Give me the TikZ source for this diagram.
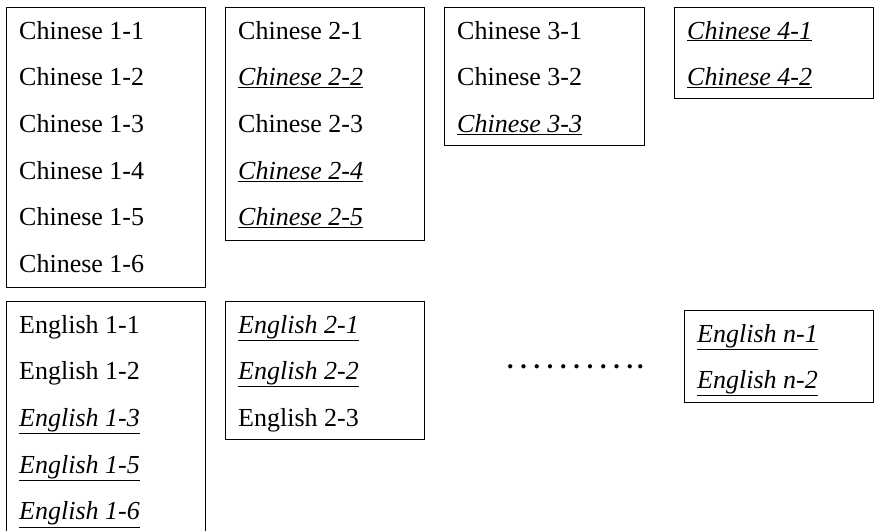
\documentclass[tikz,border=0pt]{standalone}
\usepackage{fontspec}
\setmainfont{Liberation Serif}
\usetikzlibrary{calc}

% italic, underlined entry
\newcommand{\hl}[1]{\underline{\textit{#1}}}

\tikzset{
  col/.style={draw, line width=0.8pt, inner sep=0pt, anchor=north west, minimum width=199pt},
  entry/.style={anchor=base west, inner sep=0pt, font=\fontsize{26}{30}\selectfont}
}

\begin{document}
\begin{tikzpicture}[x=1pt,y=-1pt]
    \useasboundingbox (0,0) rectangle (874,530);
    \clip (0,0) rectangle (874,530);

    % Chinese columns
    \node[col, minimum height=280pt] (c1) at (6,7) {};
    \foreach \t [count=\i] in {Chinese 1-1, Chinese 1-2, Chinese 1-3, Chinese 1-4, Chinese 1-5, Chinese 1-6}
        \node[entry] (c1-\i) at ($(c1.north west)+(13,{32+46.7*(\i-1)})$) {\t};

    \node[col, minimum height=233pt] (c2) at (225,7) {};
    \foreach \t [count=\i] in {Chinese 2-1, \hl{Chinese 2-2}, Chinese 2-3, \hl{Chinese 2-4}, \hl{Chinese 2-5}}
        \node[entry] (c2-\i) at ($(c2.north west)+(13,{32+46.7*(\i-1)})$) {\t};

    \node[col, minimum height=138pt, minimum width=200pt] (c3) at (444,7) {};
    \foreach \t [count=\i] in {Chinese 3-1, Chinese 3-2, \hl{Chinese 3-3}}
        \node[entry] (c3-\i) at ($(c3.north west)+(13,{32+46.7*(\i-1)})$) {\t};

    \node[col, minimum height=91pt] (c4) at (674,7) {};
    \foreach \t [count=\i] in {\hl{Chinese 4-1}, \hl{Chinese 4-2}}
        \node[entry] (c4-\i) at ($(c4.north west)+(13,{32+46.7*(\i-1)})$) {\t};

    % English columns
    \node[col, minimum height=300pt] (e1) at (6,301) {};
    \foreach \t [count=\i] in {English 1-1, English 1-2, \hl{English 1-3}, \hl{English 1-5}, \hl{English 1-6}}
        \node[entry] (e1-\i) at ($(e1.north west)+(13,{32+46.7*(\i-1)})$) {\t};

    \node[col, minimum height=138pt] (e2) at (225,301) {};
    \foreach \t [count=\i] in {\hl{English 2-1}, \hl{English 2-2}, English 2-3}
        \node[entry] (e2-\i) at ($(e2.north west)+(13,{32+46.7*(\i-1)})$) {\t};

    \node[col, minimum height=92pt, minimum width=189pt] (en) at (684,310) {};
    \foreach \t [count=\i] in {\hl{English n-1}, \hl{English n-2}}
        \node[entry] (en-\i) at ($(en.north west)+(13,{32+46.7*(\i-1)})$) {\t};

    % gap between column 2 and column n
    \node[entry, font=\fontsize{26}{30}\selectfont\bfseries] (more) at (506.8,368)
        {\foreach \i in {1,...,9}{.\kern6.8pt}.\kern4pt.};
\end{tikzpicture}
\end{document}
